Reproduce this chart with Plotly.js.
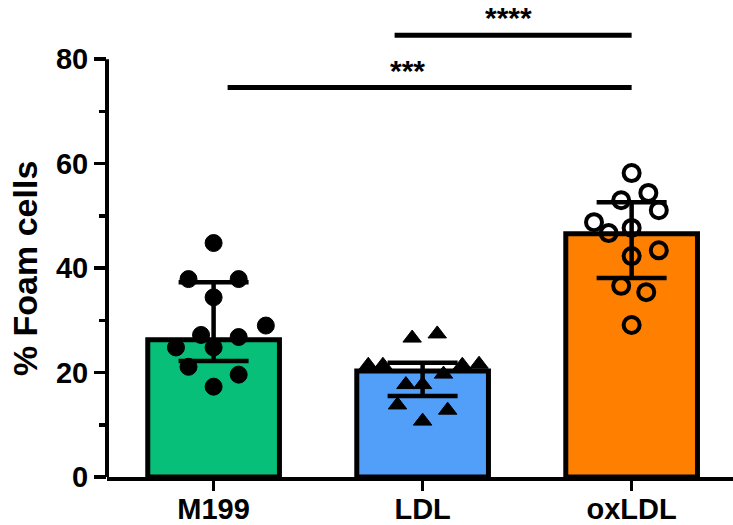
<!DOCTYPE html>
<html>
<head>
<meta charset="utf-8">
<script src="https://cdn.plot.ly/plotly-3.0.1.min.js"></script>
<style>html,body{margin:0;padding:0;background:#fff;}#chart{width:733px;height:525px;}</style>
</head>
<body>
<div id="chart"></div>
<script>
// ---- data ----
const categories = ["M199", "LDL", "oxLDL"];
const barValues = [26.3, 20.3, 46.6];          // bar heights (median)
const errUpper = [37.3, 21.9, 52.6];           // upper whisker
const errLower = [22.2, 15.5, 38.1];           // lower whisker

const m199Values = [44.8, 37.9, 37.9, 34.4, 29.0, 27.2, 26.8, 24.8, 24.8, 21.1, 19.6, 17.3];
const m199Jitter = [0, -0.12, 0.12, 0, 0.25, -0.06, 0.12, -0.18, 0, -0.12, 0.12, 0];

const ldlValues = [27.4, 26.6, 21.4, 21.4, 21.4, 21.6, 19.7, 17.7, 17.7, 13.8, 12.8, 10.7];
const ldlJitter = [0.07, -0.05, -0.26, -0.19, 0.19, 0.27, 0.10, -0.08, 0, -0.12, 0.12, 0];

const oxldlValues = [58.2, 54.4, 53.0, 51.1, 48.8, 47.7, 46.7, 43.4, 42.3, 36.6, 35.4, 29.1];
const oxldlJitter = [0, 0.08, -0.05, 0.13, -0.18, 0, -0.11, 0.13, 0, -0.05, 0.07, 0];

// significance comparisons: [from, to, bar level, label]
const sigFrom = [0.067, 0.866];
const sigTo = [2.0, 2.0];
const sigLevel = [74.6, 84.6];
const sigLabels = ["***", "****"];
const sigLabelX = [0.93, 1.41];

const yTicks = [0, 20, 40, 60, 80];
const yMinorTicks = [10, 30, 50, 70];

// ---- styling ----
const barColors = ["#07BF78", "#529FFA", "#FF8000"];
const fontFam = "Arial, 'Liberation Sans', sans-serif";
const xIdx = categories.map((_, i) => i);

const bars = {
  type: "bar",
  x: xIdx,
  y: barValues,
  width: 0.63,
  marker: {color: barColors, line: {color: "#000", width: 5}},
  error_y: {
    type: "data", symmetric: false,
    array: errUpper.map((u, i) => u - barValues[i]),
    arrayminus: barValues.map((v, i) => v - errLower[i]),
    color: "#000", thickness: 4.5, width: 35
  },
  hoverinfo: "skip"
};

function pts(values, jitter, idx, marker) {
  return {
    type: "scatter", mode: "markers",
    x: jitter.map(j => idx + j), y: values,
    marker: marker, cliponaxis: false, hoverinfo: "skip"
  };
}

const traces = [
  bars,
  pts(m199Values, m199Jitter, 0, {symbol: "circle", size: 17, color: "#000", line: {color: "#000", width: 1}}),
  pts(ldlValues, ldlJitter, 1, {symbol: "triangle-up", size: 16, color: "#000", line: {color: "#000", width: 1}}),
  pts(oxldlValues, oxldlJitter, 2, {symbol: "circle-open", size: 16, color: "#000", line: {color: "#000", width: 4}})
];

const shapes = [
  // y axis line drawn from 0 to 80 only
  {type: "line", xref: "paper", x0: 0, x1: 0, yref: "y", y0: 0, y1: yTicks[yTicks.length - 1],
   line: {color: "#000", width: 4}}
];
const annotations = [
  {xref: "paper", yref: "y", x: -0.131, y: 40, text: "% Foam cells", textangle: -90,
   showarrow: false, xanchor: "center", yanchor: "middle",
   font: {family: fontFam, size: 34, color: "#000", weight: "bold"}}
];
sigLevel.forEach((lv, i) => {
  shapes.push({type: "line", xref: "x", yref: "y", x0: sigFrom[i], x1: sigTo[i], y0: lv, y1: lv,
               line: {color: "#000", width: 5}});
  annotations.push({xref: "x", yref: "y", x: sigLabelX[i], y: lv + 3.3, text: sigLabels[i],
                    showarrow: false, xanchor: "center", yanchor: "middle",
                    font: {family: fontFam, size: 30, color: "#000", weight: "bold"}});
});

const layout = {
  width: 733, height: 525,
  margin: {l: 107, r: 0, t: 7, b: 48},
  paper_bgcolor: "#fff", plot_bgcolor: "#fff",
  showlegend: false,
  bargap: 0,
  xaxis: {
    range: [-0.51, 2.485],
    tickvals: xIdx, ticktext: categories,
    showline: true, linecolor: "#000", linewidth: 4,
    ticks: "outside", ticklen: 10, tickwidth: 3.5, tickcolor: "#000",
    ticklabelstandoff: -7,
    showgrid: false, zeroline: false, fixedrange: true,
    tickfont: {family: fontFam, size: 29, color: "#000", weight: "bold"}
  },
  yaxis: {
    range: [0, 90],
    tickvals: yTicks, ticktext: yTicks.map(String),
    showline: false,
    ticks: "outside", ticklen: 12, tickwidth: 3.5, tickcolor: "#000",
    minor: {tickvals: yMinorTicks, ticks: "outside", ticklen: 7, tickwidth: 3.5, tickcolor: "#000", showgrid: false},
    showgrid: false, zeroline: false, fixedrange: true,
    tickfont: {family: fontFam, size: 29, color: "#000", weight: "bold"}
  },
  shapes: shapes,
  annotations: annotations
};

Plotly.newPlot("chart", traces, layout, {displayModeBar: false, staticPlot: true});
</script>
</body>
</html>
